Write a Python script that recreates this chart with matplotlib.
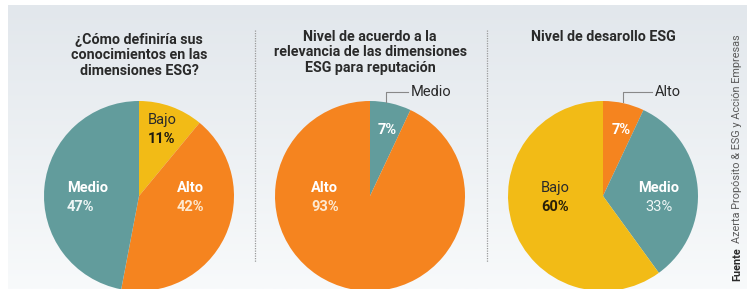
import numpy as np
import matplotlib.pyplot as plt
from matplotlib.colors import LinearSegmentedColormap

plt.rcParams['font.family'] = ['Roboto', 'DejaVu Sans']

W, H = 747, 289

titles = ['¿Cómo definiría sus\nconocimientos en las\ndimensiones ESG?',
          'Nivel de acuerdo a la\nrelevancia de las dimensiones\nESG para reputación',
          'Nivel de desarollo ESG']

cats1 = ['Bajo', 'Alto', 'Medio']
vals1 = [11, 42, 47]
cats2 = ['Medio', 'Alto']
vals2 = [7, 93]
cats3 = ['Alto', 'Medio', 'Bajo']
vals3 = [7, 33, 60]

source_bold = 'Fuente'
source_text = 'Azerta Propósito & ESG y Acción Empresas'

teal = '#629c9c'
orange = '#f5841f'
yellow = '#f2bb16'
colors = {'Bajo': yellow, 'Alto': orange, 'Medio': teal}
dark = '#2a2a2a'

fig = plt.figure(figsize=(W / 100, H / 100), dpi=100)
ax = fig.add_axes([0, 0, 1, 1])

# background gradient
cmap = LinearSegmentedColormap.from_list('bg', ['#e2e7ec', '#f8fafb'])
grad = np.linspace(0, 1, 256).reshape(-1, 1)
ax.imshow(grad, cmap=cmap, aspect='auto', extent=(8, W, 0, H - 5), zorder=0)


def Y(y):
    return H - y


centers = [139, 370, 603]
cy = 196
r = 95
for cx, cats, vals in zip(centers, [cats1, cats2, cats3], [vals1, vals2, vals3]):
    ax.pie(vals, colors=[colors[c] for c in cats], startangle=90, counterclock=False,
           center=(cx, Y(cy)), radius=r, wedgeprops=dict(linewidth=0), frame=True)

# titles
tsize = 10.3
ax.text(centers[0], Y(33), titles[0], ha='center', va='top', fontsize=tsize,
        fontweight='bold', color=dark, linespacing=1.12)
ax.text(centers[1], Y(30), titles[1], ha='center', va='top', fontsize=tsize,
        fontweight='bold', color=dark, linespacing=1.12)
ax.text(centers[2], Y(30), titles[2], ha='center', va='top', fontsize=tsize,
        fontweight='bold', color=dark, linespacing=1.12)

# separators
for x in [255, 487]:
    ax.plot([x, x], [Y(30), Y(262)], color='#9a9a9a', lw=0.9, ls=(0, (1, 1)))

lsize = 10.5


def lab(x, y, top, bottom, ha, c1, c2, w1, w2, dy=19):
    ax.text(x, Y(y), top, ha=ha, va='center', fontsize=lsize, color=c1, fontweight=w1)
    ax.text(x, Y(y + dy), bottom, ha=ha, va='center', fontsize=lsize, color=c2, fontweight=w2)


# pie 1
lab(148, 120, cats1[0], f'{vals1[0]}%', 'left', dark, '#1e1a10', 'normal', 'bold')
lab(177, 188, cats1[1], f'{vals1[1]}%', 'left', 'white', '#fde9d0', 'bold', 'bold')
lab(67, 188, cats1[2], f'{vals1[2]}%', 'left', 'white', '#eef6f6', 'bold', 'bold')

# pie 2
ax.text(378, Y(130), f'{vals2[0]}%', ha='left', va='center', fontsize=lsize,
        color='white', fontweight='bold')
lab(311, 188, cats2[1], f'{vals2[1]}%', 'left', 'white', '#fde9d0', 'bold', 'bold')
ax.plot([386, 386, 408], [Y(102), Y(92), Y(92)], color='#888888', lw=0.8)
ax.text(411, Y(92), cats2[0], ha='left', va='center', fontsize=lsize, color=dark)

# pie 3
ax.text(612, Y(130), f'{vals3[0]}%', ha='left', va='center', fontsize=lsize,
        color='white', fontweight='bold')
lab(659, 188, cats3[1], f'{vals3[1]}%', 'center', 'white', '#eef6f6', 'bold', 'normal')
lab(555, 188, cats3[2], f'{vals3[2]}%', 'center', dark, '#2a2008', 'normal', 'bold')
ax.plot([623, 623, 652], [Y(102), Y(92), Y(92)], color='#888888', lw=0.8)
ax.text(655, Y(92), cats3[0], ha='left', va='center', fontsize=lsize, color=dark)

ax.set_xlim(0, W)
ax.set_ylim(0, H)
ax.set_aspect('auto')
ax.axis('off')

# source, rotated; second part placed right after the bold word
t1 = ax.text(737, Y(281), source_bold, rotation=90, ha='center', va='bottom',
             fontsize=7.8, fontweight='bold', color=dark)
fig.canvas.draw()
bb = t1.get_window_extent(fig.canvas.get_renderer())
ax.text(737, bb.y1 + 4, source_text, rotation=90, ha='center', va='bottom',
        fontsize=7.8, color='#5a5a5a')

fig.savefig('out.png', dpi=100, facecolor='white')
